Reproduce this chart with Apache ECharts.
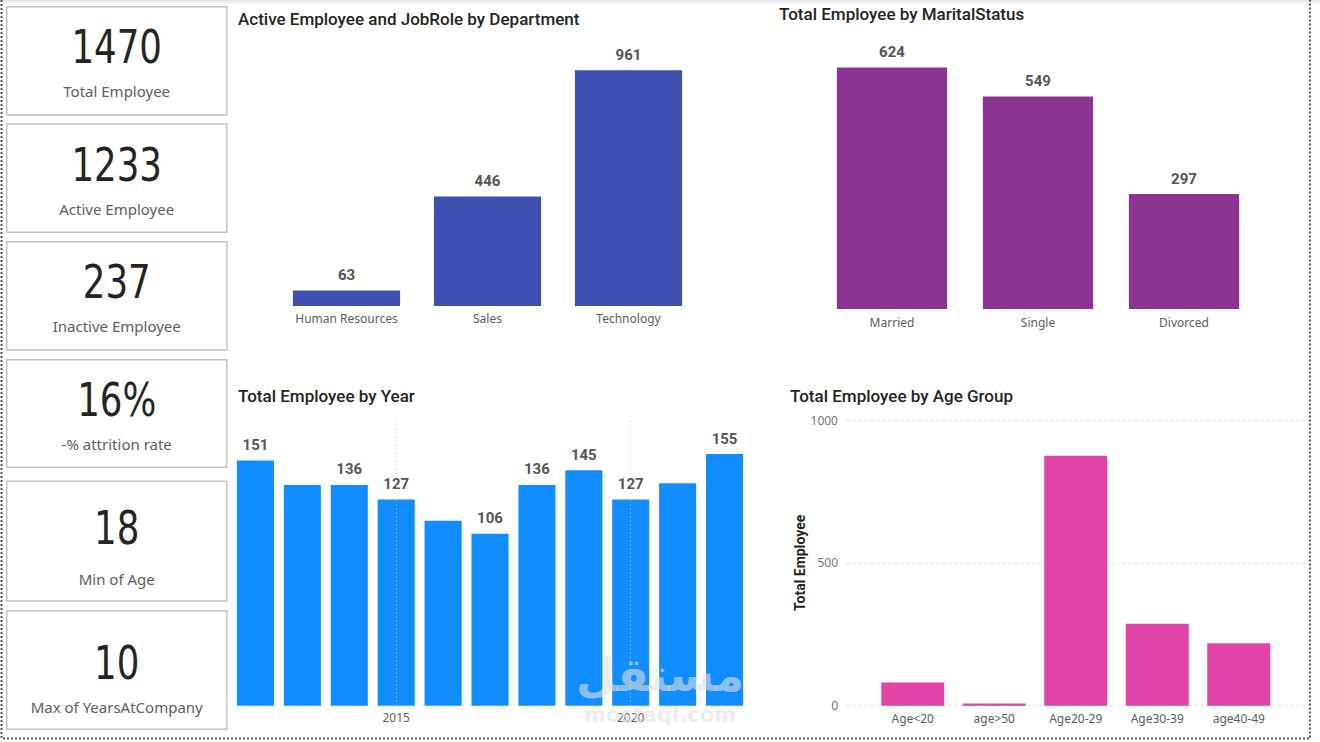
<!DOCTYPE html>
<html>
<head>
<meta charset="utf-8">
<title>HR Dashboard</title>
<script src="https://cdn.jsdelivr.net/npm/echarts@6/dist/echarts.min.js"></script>
<style>
  html, body { margin: 0; padding: 0; background: #fff; }
  #dash { width: 1320px; height: 742px; }
</style>
</head>
<body>
<div id="dash"></div>
<script>
// KPI cards
const kpiValues = ['1470', '1233', '237', '16%', '18', '10'];
const kpiLabels = ['Total Employee', 'Active Employee', 'Inactive Employee', '-% attrition rate', 'Min of Age', 'Max of YearsAtCompany'];

// Active Employee and JobRole by Department
const departments = ['Human Resources', 'Sales', 'Technology'];
const deptActive = [63, 446, 961];

// Total Employee by MaritalStatus
const maritalStatus = ['Married', 'Single', 'Divorced'];
const maritalTotal = [624, 549, 297];

// Total Employee by Year
const years = ['2012', '2013', '2014', '2015', '2016', '2017', '2018', '2019', '2020', '2021', '2022'];
const yearTotal = [151, 136, 136, 127, 114, 106, 136, 145, 127, 137, 155];
const yearTickLabels = ['2015', '2020'];
const yearHiddenLabels = ['2013', '2016', '2021'];

// Total Employee by Age Group
const ageGroups = ['Age<20', 'age>50', 'Age20-29', 'Age30-39', 'age40-49'];
const ageTotal = [81, 8, 875, 287, 219];
const ageTicks = [0, 500, 1000];

const TITLE_FONT = 'Roboto, "Noto Sans", sans-serif';
const BODY_FONT = '"Noto Sans", "Open Sans", sans-serif';
const KPI_FONT = '"DejaVu Sans Condensed", Roboto, sans-serif';

const catLabel = { color: '#605E5C', fontSize: 12, fontFamily: BODY_FONT };
const valLabel = { show: true, position: 'top', distance: 8, color: '#555555', fontSize: 15, fontWeight: 'bold', fontFamily: TITLE_FONT };

// card boxes [y, height, numberCenter, labelCenter] - layout only
const cardLayout = [
  [6.7, 108.3, 46.7, 91.7],
  [124, 108.3, 165, 210],
  [241.7, 108.3, 281.7, 326.7],
  [359.7, 107.6, 400, 445],
  [481.3, 119.7, 528.3, 580],
  [610.7, 118.6, 663.3, 708.3]
];

const graphics = [];
// top shade band
graphics.push({
  type: 'rect', shape: { x: 0, y: 0, width: 1320, height: 5 }, silent: true,
  style: { fill: new echarts.graphic.LinearGradient(0, 0, 0, 1, [
    { offset: 0, color: '#e4e4e4' }, { offset: 1, color: '#ffffff' }]) }
});
kpiValues.forEach((v, i) => {
  const [y, h, ny, ly] = cardLayout[i];
  graphics.push({
    type: 'rect', shape: { x: 6.7, y: y, width: 220, height: h }, silent: true,
    style: { fill: '#fff', stroke: '#c4c4c4', lineWidth: 1.5 }
  });
  graphics.push({
    type: 'text', x: 116.7, y: ny, scaleX: 0.86, silent: true,
    style: { text: v, fill: '#252423', font: '46px ' + KPI_FONT, textAlign: 'center', textVerticalAlign: 'middle' }
  });
  graphics.push({
    type: 'text', x: 116.7, y: ly - 1, silent: true,
    style: { text: kpiLabels[i], fill: '#605E5C', font: '15px ' + BODY_FONT, textAlign: 'center', textVerticalAlign: 'middle' }
  });
});
// chart titles
[
  ['Active Employee and JobRole by Department', 238, 19],
  ['Total Employee by MaritalStatus', 779, 14],
  ['Total Employee by Year', 238, 396],
  ['Total Employee by Age Group', 790, 396]
].forEach(t => {
  graphics.push({
    type: 'text', x: t[1], y: t[2], silent: true,
    style: { text: t[0], fill: '#252423', font: '500 17px ' + TITLE_FONT, textAlign: 'left', textVerticalAlign: 'middle' }
  });
});
// dotted page border
graphics.push({
  type: 'polyline', silent: true,
  shape: { points: [[1.5, 0], [1.5, 738.5], [1310, 738.5], [1310, 0]] },
  style: { stroke: '#555', lineWidth: 2, lineDash: [2, 2], fill: null }
});
// watermark
graphics.push({
  type: 'text', x: 660, y: 675, z: 100, silent: true,
  style: { text: 'مستقل', fill: 'rgba(225,225,225,0.6)', font: 'bold 46px "DejaVu Sans", sans-serif', textAlign: 'center', textVerticalAlign: 'middle' }
});
graphics.push({
  type: 'text', x: 660, y: 715, z: 100, silent: true,
  style: { text: 'mostaql.com', fill: 'rgba(225,225,225,0.6)', font: 'bold 21px "DejaVu Sans", sans-serif', textAlign: 'center', textVerticalAlign: 'middle' }
});

const hiddenAxis = { show: false };

const option = {
  animation: false,
  backgroundColor: '#ffffff',
  graphic: graphics,
  grid: [
    { left: 276, width: 423, top: 36.2, bottom: 436 },
    { left: 819, width: 438, top: 38, bottom: 433 },
    { left: 232, width: 516, top: 420, bottom: 36.3 },
    { left: 847, right: 15, top: 420, bottom: 36.3 },
    { left: 872, width: 407.5, top: 420, bottom: 36.3 }
  ],
  xAxis: [
    { type: 'category', gridIndex: 0, data: departments, axisLine: hiddenAxis, axisTick: hiddenAxis, axisLabel: { ...catLabel, margin: 6 } },
    { type: 'category', gridIndex: 1, data: maritalStatus, axisLine: hiddenAxis, axisTick: hiddenAxis, axisLabel: { ...catLabel, margin: 7 } },
    { type: 'category', gridIndex: 2, data: years, axisLine: hiddenAxis, axisTick: hiddenAxis,
      axisLabel: { ...catLabel, margin: 6, interval: (i, v) => yearTickLabels.indexOf(v) >= 0 } },
    { type: 'value', gridIndex: 3, show: false },
    { type: 'category', gridIndex: 4, data: ageGroups, axisLine: hiddenAxis, axisTick: hiddenAxis, axisLabel: { ...catLabel, margin: 7 } }
  ],
  yAxis: [
    { type: 'value', gridIndex: 0, min: 0, max: 1100, show: false },
    { type: 'value', gridIndex: 1, min: 0, max: 700, show: false },
    { type: 'value', gridIndex: 2, min: 0, max: 176, show: false },
    { type: 'value', gridIndex: 3, min: 0, max: 1000, interval: 500,
      name: 'Total Employee', nameLocation: 'middle', nameRotate: 90, nameGap: 40,
      nameTextStyle: { color: '#252423', fontSize: 14, fontWeight: 'bold', fontFamily: TITLE_FONT },
      axisLine: hiddenAxis, axisTick: hiddenAxis,
      axisLabel: { color: '#777777', fontSize: 12, fontFamily: BODY_FONT, margin: 9,
        formatter: v => (ageTicks.indexOf(v) >= 0 ? String(v) : '') },
      splitLine: { show: true, lineStyle: { type: [2, 4], color: '#cfcfcf', width: 1 } } },
    { type: 'value', gridIndex: 4, min: 0, max: 1000, show: false }
  ],
  series: [
    { type: 'bar', xAxisIndex: 0, yAxisIndex: 0, data: deptActive, barCategoryGap: '24%',
      itemStyle: { color: '#3F4FAF' }, label: valLabel },
    { type: 'bar', xAxisIndex: 1, yAxisIndex: 1, data: maritalTotal, barCategoryGap: '24.5%',
      itemStyle: { color: '#8A3391' }, label: valLabel },
    { type: 'line', xAxisIndex: 2, yAxisIndex: 2, data: [], z: 1, silent: true,
      markLine: { silent: true, symbol: ['none', 'none'], label: { show: false },
        lineStyle: { type: [1, 3], color: '#c8c8c8', width: 1 },
        data: yearTickLabels.map(y => ({ xAxis: y })) } },
    { type: 'bar', xAxisIndex: 2, yAxisIndex: 2, data: yearTotal, barCategoryGap: '21%', z: 3,
      itemStyle: { color: '#118DFF' },
      label: { ...valLabel, formatter: p => (yearHiddenLabels.indexOf(p.name) >= 0 ? '' : String(p.value)) } },
    { type: 'bar', xAxisIndex: 4, yAxisIndex: 4, data: ageTotal, barCategoryGap: '22.7%', z: 3,
      itemStyle: { color: '#E044A7' } }
  ]
};

const chart = echarts.init(document.getElementById('dash'), null, { renderer: 'svg' });
chart.setOption(option);
</script>
</body>
</html>
